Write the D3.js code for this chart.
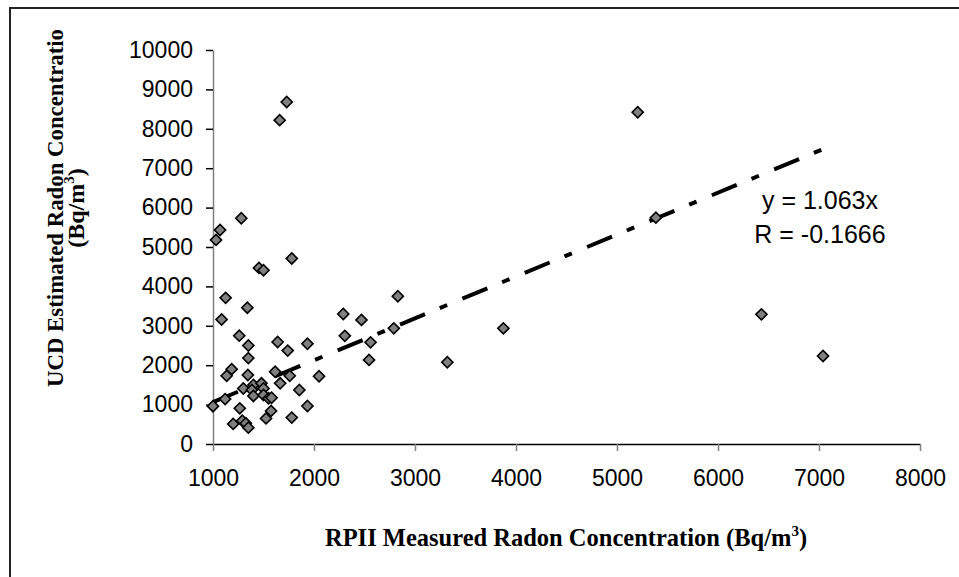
<!DOCTYPE html>
<html>
<head>
<meta charset="utf-8">
<script src="https://cdn.jsdelivr.net/npm/d3@7"></script>
<style>
  body { margin: 0; background: #fff; }
</style>
</head>
<body>
<div class="scatter"></div>
<script>
// RPII measured vs UCD estimated radon (Bq/m3)
var rpiiMeasured = [1730, 1660, 1280, 1070, 1030, 1455, 1500, 1780, 1125, 1340,
    1085, 1260, 1350, 1350, 1640, 1740, 1935, 1185, 1135, 1345,
    1615, 1760, 1665, 1300, 1400, 1480, 1385, 1500, 1400, 1500,
    1550, 1580, 1855, 1120, 1000, 1265, 1575, 1525, 1780, 1935,
    1200, 1290, 1325, 1350, 2050, 2290, 2470, 2305, 2560, 2545,
    2790, 2830, 3320, 3875, 5205, 5385, 6430, 7040];
var ucdEstimated = [8680, 8220, 5730, 5430, 5180, 4470, 4410, 4710, 3710, 3460,
    3160, 2750, 2500, 2180, 2590, 2370, 2545, 1900, 1730, 1750,
    1835, 1730, 1540, 1410, 1500, 1540, 1370, 1410, 1220, 1245,
    1160, 1175, 1370, 1140, 960, 905, 840, 650, 670, 965,
    510, 590, 525, 415, 1720, 3300, 3150, 2745, 2580, 2135,
    2935, 3750, 2075, 2935, 8420, 5745, 3290, 2235];
var xTicks = [1000, 2000, 3000, 4000, 5000, 6000, 7000, 8000];
var yTicks = [0, 1000, 2000, 3000, 4000, 5000, 6000, 7000, 8000, 9000, 10000];
var slope = 1.063;
var eqLabels = ["y = 1.063x", "R = -0.1666"];

var svgWidth = 959;
var svgHeight = 577;
var margin = { top: 50, bottom: 133, right: 39, left: 213 };
var height = svgHeight - margin.top - margin.bottom;
var width = svgWidth - margin.left - margin.right;

var svg = d3.select(".scatter")
    .append("svg")
    .attr("width", svgWidth)
    .attr("height", svgHeight);

// outer frame (cut at right and bottom)
svg.append("path")
    .attr("d", "M10,577 L10,8 L959,8")
    .attr("fill", "none")
    .attr("stroke", "#222")
    .attr("stroke-width", 2);

var chartGroup = svg.append("g")
    .attr("transform", `translate(${margin.left}, ${margin.top})`);

var data = rpiiMeasured.map(function(d, i) {
    return { x: d, y: ucdEstimated[i] };
});

var xScale = d3.scaleLinear().domain([1000, 8000]).range([0, width]);
var yScale = d3.scaleLinear().domain([0, 10000]).range([height, 0]);

// x axis
var xAxis = chartGroup.append("g")
    .attr("transform", `translate(0, ${height})`)
    .call(d3.axisBottom(xScale).tickValues(xTicks).tickSizeInner(7).tickSizeOuter(0).tickPadding(19).tickFormat(d3.format("d")));
xAxis.select(".domain").attr("stroke", "#000").attr("stroke-width", 1.5);
xAxis.selectAll(".tick line").attr("stroke", "#808080").attr("stroke-width", 1.5);

// y axis
var yAxis = chartGroup.append("g")
    .call(d3.axisLeft(yScale).tickValues(yTicks).tickSizeInner(7).tickSizeOuter(0).tickPadding(13).tickFormat(d3.format("d")));
yAxis.select(".domain").attr("stroke", "#808080").attr("stroke-width", 1.5);
yAxis.selectAll(".tick line").attr("stroke", "#000").attr("stroke-width", 1.5);

chartGroup.selectAll(".tick text")
    .attr("font-family", "Liberation Sans, Arial, sans-serif")
    .attr("font-size", 23)
    .attr("fill", "#000");

// trend line y = 1.063x
var xExt = d3.extent(rpiiMeasured);
var line = d3.line().x(d => xScale(d)).y(d => yScale(slope * d));
chartGroup.append("path")
    .datum(xExt)
    .attr("d", line)
    .attr("fill", "none")
    .attr("stroke", "#000")
    .attr("stroke-width", 4)
    .attr("stroke-dasharray", "27 16 8 16.5");

// diamond markers
var diamond = d3.symbol().type(d3.symbolSquare).size(62);
chartGroup.selectAll(".pt")
    .data(data)
    .enter()
    .append("path")
    .attr("class", "pt")
    .attr("d", diamond)
    .attr("transform", d => `translate(${xScale(d.x)}, ${yScale(d.y)}) rotate(45)`)
    .attr("fill", "#808080")
    .attr("stroke", "#000")
    .attr("stroke-width", 1.6);

// equation labels
chartGroup.selectAll(".eq")
    .data(eqLabels)
    .enter()
    .append("text")
    .attr("class", "eq")
    .attr("x", xScale(7010))
    .attr("y", (d, i) => yScale(5965) + i * 34)
    .attr("text-anchor", "middle")
    .attr("font-family", "Liberation Sans, Arial, sans-serif")
    .attr("font-size", 25)
    .text(d => d);

// x axis title
var xTitle = svg.append("text")
    .attr("x", 566)
    .attr("y", 546)
    .attr("text-anchor", "middle")
    .attr("font-family", "Liberation Serif, Times New Roman, serif")
    .attr("font-weight", "bold")
    .attr("font-size", 24.5);
xTitle.append("tspan").text("RPII Measured Radon Concentration (Bq/m");
xTitle.append("tspan").attr("dy", -10).attr("font-size", 15).text("3");
xTitle.append("tspan").attr("dy", 10).text(")");

// y axis title (two lines, rotated)
var yTitle = svg.append("g")
    .attr("transform", "translate(0, 208) rotate(-90)");
yTitle.append("text")
    .attr("x", 0)
    .attr("y", 63)
    .attr("text-anchor", "middle")
    .attr("font-family", "Liberation Serif, Times New Roman, serif")
    .attr("font-weight", "bold")
    .attr("font-size", 24)
    .attr("textLength", 358)
    .attr("lengthAdjust", "spacingAndGlyphs")
    .text("UCD Estimated Radon Concentratio");
var yt2 = yTitle.append("text")
    .attr("x", 0)
    .attr("y", 84)
    .attr("text-anchor", "middle")
    .attr("font-family", "Liberation Serif, Times New Roman, serif")
    .attr("font-weight", "bold")
    .attr("font-size", 24);
yt2.append("tspan").text("(Bq/m");
yt2.append("tspan").attr("dy", -10).attr("font-size", 15).text("3");
yt2.append("tspan").attr("dy", 10).text(")");
</script>
</body>
</html>
